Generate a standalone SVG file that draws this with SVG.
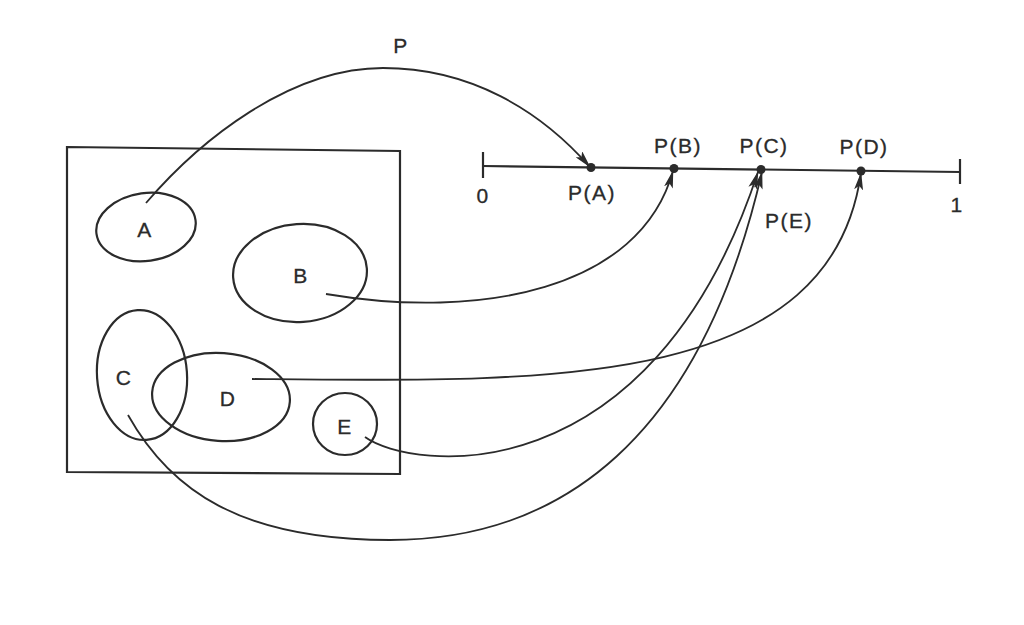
<svg xmlns="http://www.w3.org/2000/svg" width="1024" height="625" viewBox="0 0 1024 625">
<defs>
<marker id="arr" viewBox="0 0 18 9" refX="17" refY="4.5" markerWidth="18" markerHeight="9" markerUnits="userSpaceOnUse" orient="auto">
<path d="M0,0 L18,4.5 L0,9 L4,4.5 Z" fill="#2b2b2b"/>
</marker>
</defs>
<style>
.s{fill:none;stroke:#2b2b2b;stroke-width:2.2}
.c{fill:none;stroke:#2b2b2b;stroke-width:1.8;marker-end:url(#arr)}
.t{font-family:"Liberation Sans",Arial,sans-serif;font-size:21px;fill:#2b2b2b;stroke:#2b2b2b;stroke-width:0.3;text-anchor:middle;letter-spacing:1.5px}
.d{fill:#2b2b2b}
</style>
<rect width="1024" height="625" fill="#ffffff"/>
<g id="box">
<polygon class="s" points="67,147 400,151 400,474 67,472"/>
</g>
<g id="nodeA">
<ellipse class="s" cx="146" cy="227" rx="50" ry="34" transform="rotate(-8 146 227)"/>
<text class="t" x="145" y="237">A</text>
</g>
<g id="nodeB">
<ellipse class="s" cx="300" cy="273" rx="67" ry="49" transform="rotate(-4 300 273)"/>
<text class="t" x="301" y="283">B</text>
</g>
<g id="nodeC">
<ellipse class="s" cx="142" cy="375" rx="45" ry="65" transform="rotate(-4 142 375)"/>
<text class="t" x="124" y="385">C</text>
</g>
<g id="nodeD">
<ellipse class="s" cx="221" cy="397" rx="69" ry="44" transform="rotate(4 221 397)"/>
<text class="t" x="228" y="406">D</text>
</g>
<g id="nodeE">
<ellipse class="s" cx="345" cy="424" rx="32" ry="31"/>
<text class="t" x="345" y="434">E</text>
</g>
<g id="numberline">
<line class="s" x1="483" y1="166" x2="960" y2="172"/>
<line class="s" x1="483" y1="152" x2="483" y2="178"/>
<line class="s" x1="960" y1="159" x2="960" y2="184"/>
<circle class="d" cx="591" cy="167.5" r="4.5"/>
<circle class="d" cx="674" cy="168.5" r="4.5"/>
<circle class="d" cx="761" cy="169.5" r="4.5"/>
<circle class="d" cx="861" cy="171" r="4.5"/>
<text class="t" x="483" y="203">0</text>
<text class="t" x="957" y="212">1</text>
<text class="t" x="592" y="200">P(A)</text>
<text class="t" x="678" y="153">P(B)</text>
<text class="t" x="764" y="153">P(C)</text>
<text class="t" x="864" y="154">P(D)</text>
<text class="t" x="789" y="228">P(E)</text>
<text class="t" x="401" y="53">P</text>
</g>
<g id="connectors">
<path class="c" d="M146,203 C200,140 290,68 383,68 C470,68 540,110 590,167"/>
<path class="c" d="M326,294 C480,320 640,290 673,171"/>
<path class="c" d="M252,379 C550,382 830,390 861,173"/>
<path class="c" d="M365,437 C410,470 650,500 758,172"/>
<path class="c" d="M128,415 C170,490 240,540 390,540 C560,540 700,440 762,172"/>
</g>
</svg>
